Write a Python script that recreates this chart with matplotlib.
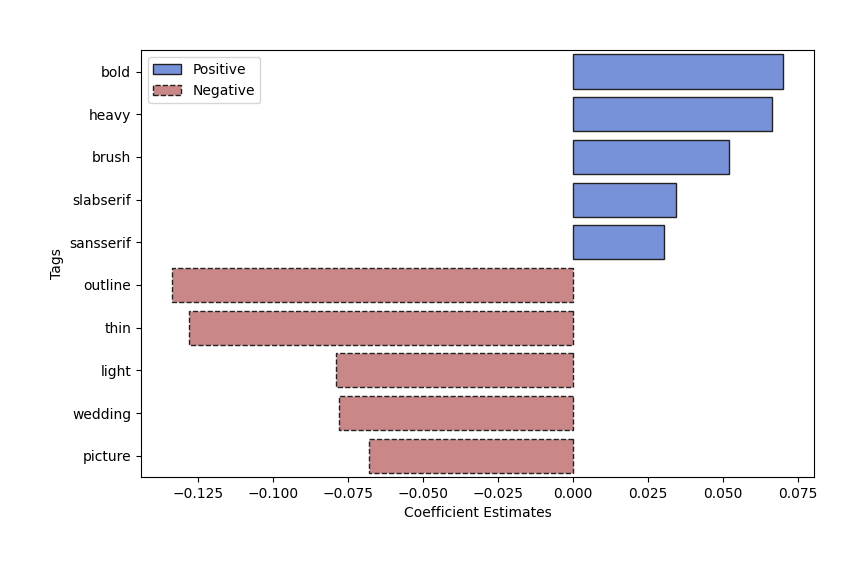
import matplotlib
matplotlib.use("Agg")
from matplotlib import pyplot as plt
from matplotlib.patches import Patch

tags = ["bold", "heavy", "brush", "slabserif", "sansserif",
        "outline", "thin", "light", "wedding", "picture"]
coefs = [0.0702, 0.0664, 0.0522, 0.0344, 0.0304,
         -0.1339, -0.1282, -0.0791, -0.0782, -0.0682]

color_pos = "#7892da"
color_neg = "#c98887"

fig = plt.figure(figsize=(8.68, 5.7), dpi=100)
ax = fig.add_axes([0.1624, 0.163, 0.7754, 0.749])

y = list(range(len(tags)))
for i, (t, c) in enumerate(zip(tags, coefs)):
    if c >= 0:
        ax.barh(i, c, height=0.8, color=color_pos, edgecolor="#222222",
                linewidth=1)
    else:
        ax.barh(i, c, height=0.8, color=color_neg, edgecolor="#222222",
                linewidth=1, linestyle="--")

ax.set_yticks(y)
ax.set_yticklabels(tags)
ax.set_ylim(len(tags) - 0.5, -0.5)
ax.set_xlabel("Coefficient Estimates")
ax.set_ylabel("Tags")

handles = [Patch(facecolor=color_pos, edgecolor="#222222", label="Positive"),
           Patch(facecolor=color_neg, edgecolor="#222222", linestyle="--", label="Negative")]
ax.legend(handles=handles, loc="upper left")

fig.savefig("out.png", dpi=100)
